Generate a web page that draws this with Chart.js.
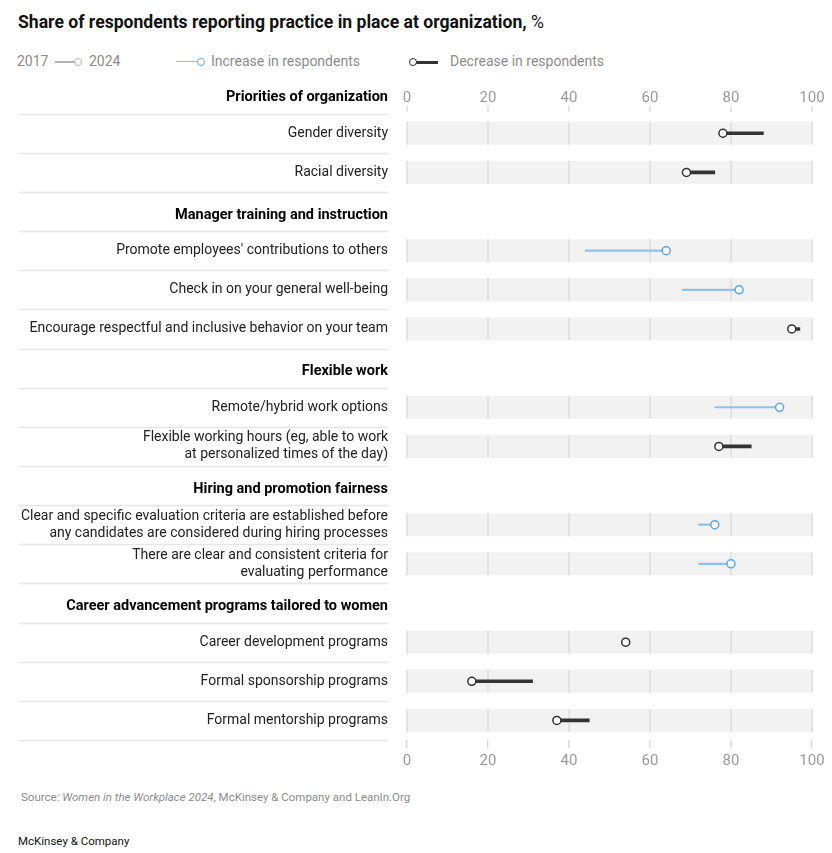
<!DOCTYPE html>
<html>
<head>
<meta charset="utf-8">
<script src="https://cdn.jsdelivr.net/npm/chart.js@4"></script>
<style>
  body { margin: 0; width: 832px; height: 853px; background: #fff; font-family: Roboto, "Liberation Sans", sans-serif; position: relative; overflow: hidden; }
  #title { position: absolute; left: 18px; top: 12px; font-size: 17.6px; font-weight: 700; color: #111; }
  #title span { font-weight: 400; }
  .leg { position: absolute; top: 53px; font-size: 14px; color: #8c8c8c; white-space: nowrap; }
  .ln { position: absolute; height: 0; }
  .dot { position: absolute; width: 6px; height: 6px; border-radius: 50%; background: #fff; }
  #wrap { position: absolute; left: 0; top: 47px; }
  #source { position: absolute; left: 21px; top: 790px; font-size: 11.5px; color: #8c8c8c; }
  #brand { position: absolute; left: 18px; top: 834px; font-size: 11.5px; color: #111; }
</style>
</head>
<body>
<div id="title">Share of respondents reporting practice in place at organization, <span>%</span></div>

<div class="leg" style="left:17px">2017</div>
<div class="ln" style="left:55px; top:61px; width:20px; border-top:2px solid #b3b3b3"></div>
<div class="dot" style="left:74px; top:58px; border:1.5px solid #b3b3b3"></div>
<div class="leg" style="left:89px">2024</div>

<div class="ln" style="left:176px; top:61px; width:24px; border-top:1.5px solid #8ec1ee"></div>
<div class="dot" style="left:197px; top:58px; border:1.5px solid #5aa7f0"></div>
<div class="leg" style="left:211px">Increase in respondents</div>

<div class="ln" style="left:414px; top:60.5px; width:24px; border-top:3px solid #333"></div>
<div class="dot" style="left:409px; top:58px; border:1.5px solid #333"></div>
<div class="leg" style="left:450px">Decrease in respondents</div>

<div id="wrap"><canvas id="chart" width="832" height="733"></canvas></div>

<div id="source">Source: <i>Women in the Workplace 2024</i>, McKinsey &amp; Company and LeanIn.Org</div>
<div id="brand">McKinsey &amp; Company</div>

<script>
// rows, top to bottom (section headers included)
const categories = [
  "Priorities of organization",
  "Gender diversity",
  "Racial diversity",
  "Manager training and instruction",
  "Promote employees' contributions to others",
  "Check in on your general well-being",
  "Encourage respectful and inclusive behavior on your team",
  "Flexible work",
  "Remote/hybrid work options",
  ["Flexible working hours (eg, able to work", "at personalized times of the day)"],
  "Hiring and promotion fairness",
  ["Clear and specific evaluation criteria are established before", "any candidates are considered during hiring processes"],
  ["There are clear and consistent criteria for", "evaluating performance"],
  "Career advancement programs tailored to women",
  "Career development programs",
  "Formal sponsorship programs",
  "Formal mentorship programs"
];
const headerRows = [0, 3, 7, 10, 13];

const values2017 = [null, 88, 76, null, 44, 68, 97, null, 76, 85, null, 72, 72, null, null, 31, 45];
const values2024 = [null, 78, 69, null, 64, 82, 95, null, 92, 77, null, 76, 80, null, 54, 16, 37];

const xTicks = [0, 20, 40, 60, 80, 100];

const BLUE_LINE = "#8ec1ee";
const BLUE_DOT = "#5aa7f0";
const DARK = "#333333";
const FONT = "Roboto, 'Liberation Sans', sans-serif";

// segments
const increase = values2024.map((v, i) =>
  v != null && values2017[i] != null && values2017[i] < v ? [values2017[i], v] : null);
const decrease = values2024.map((v, i) =>
  v != null && values2017[i] != null && values2017[i] > v ? [v, values2017[i]] : null);

// gray bands, grid inside the bands, separators, section headers, top tick labels
const decor = {
  id: "decor",
  beforeDatasetsDraw(chart) {
    const { ctx } = chart;
    const x = chart.scales.x, y = chart.scales.y;
    const x0 = x.getPixelForValue(0), x1 = x.getPixelForValue(100);
    const step = y.getPixelForValue(1) - y.getPixelForValue(0);
    ctx.save();

    categories.forEach((c, i) => {
      const yc = y.getPixelForValue(i);
      if (headerRows.includes(i)) {
        // headers sit a little low in their row
        ctx.fillStyle = "#000";
        ctx.font = "bold 14.5px " + FONT;
        ctx.textAlign = "right";
        ctx.textBaseline = "middle";
        ctx.fillText(c, 388, yc + 3.5);
      } else {
        ctx.fillStyle = "#f2f2f2";
        ctx.fillRect(x0, yc - 11.5, x1 - x0, 23);
        ctx.strokeStyle = "#dcdcdc";
        ctx.lineWidth = 1.5;
        xTicks.forEach(t => {
          const px = x.getPixelForValue(t);
          ctx.beginPath();
          ctx.moveTo(px, yc - 11.5);
          ctx.lineTo(px, yc + 11.5);
          ctx.stroke();
        });
      }
      // separator under each row
      const yb = Math.round(yc + step / 2) + 0.5;
      ctx.strokeStyle = "#e6e6e6";
      ctx.lineWidth = 1.5;
      ctx.beginPath();
      ctx.moveTo(19, yb);
      ctx.lineTo(388, yb);
      ctx.stroke();
    });

    // top axis labels sitting in the first header row
    const yTop = y.getPixelForValue(0);
    ctx.fillStyle = "#9a9a9a";
    ctx.font = "15px " + FONT;
    ctx.textAlign = "center";
    ctx.textBaseline = "middle";
    xTicks.forEach(t => {
      const px = x.getPixelForValue(t);
      ctx.fillText(String(t), px, yTop + 4);
      ctx.strokeStyle = "#dcdcdc";
      ctx.lineWidth = 1.5;
      ctx.beginPath();
      ctx.moveTo(px, yTop + 12);
      ctx.lineTo(px, yTop + 18);
      ctx.stroke();
    });
    ctx.restore();
  }
};

new Chart(document.getElementById("chart"), {
  type: "bar",
  data: {
    labels: categories,
    datasets: [
      {
        label: "Decrease",
        data: decrease,
        backgroundColor: DARK,
        barThickness: 3,
        grouped: false,
        order: 2
      },
      {
        label: "Increase",
        data: increase,
        backgroundColor: BLUE_LINE,
        barThickness: 1.5,
        grouped: false,
        order: 1
      },
      {
        type: "line",
        label: "2024",
        data: values2024,
        indexAxis: "y",
        showLine: false,
        pointRadius: 4,
        pointBorderWidth: 1.5,
        pointBackgroundColor: "#fff",
        pointBorderColor: ctx => {
          const i = ctx.dataIndex;
          return values2017[i] != null && values2017[i] < values2024[i] ? BLUE_DOT : DARK;
        },
        order: 0
      }
    ]
  },
  options: {
    indexAxis: "y",
    responsive: false,
    animation: false,
    layout: { padding: { top: 0, right: 20, left: 0, bottom: 0 } },
    plugins: { legend: { display: false }, tooltip: { enabled: false } },
    scales: {
      x: {
        type: "linear",
        position: "bottom",
        min: 0,
        max: 100,
        afterBuildTicks: s => { s.ticks = xTicks.map(v => ({ value: v })); },
        afterFit: s => { s.height = 40; },
        grid: { drawOnChartArea: false, drawTicks: true, tickLength: 8, color: "#dcdcdc", lineWidth: 1.5 },
        border: { display: false },
        ticks: { color: "#9a9a9a", padding: 4, font: { size: 15, family: FONT } }
      },
      y: {
        type: "category",
        afterFit: s => { s.width = 407; },
        grid: { display: false, drawTicks: false },
        border: { display: false },
        ticks: {
          autoSkip: false,
          padding: 19,
          color: "#222",
          // section headers are drawn by the decor plugin
          callback: function (value, index) {
            return headerRows.includes(index) ? "" : this.getLabelForValue(value);
          },
          font: { size: 14, family: FONT, lineHeight: 1.22 }
        }
      }
    }
  },
  plugins: [decor]
});
</script>
</body>
</html>
